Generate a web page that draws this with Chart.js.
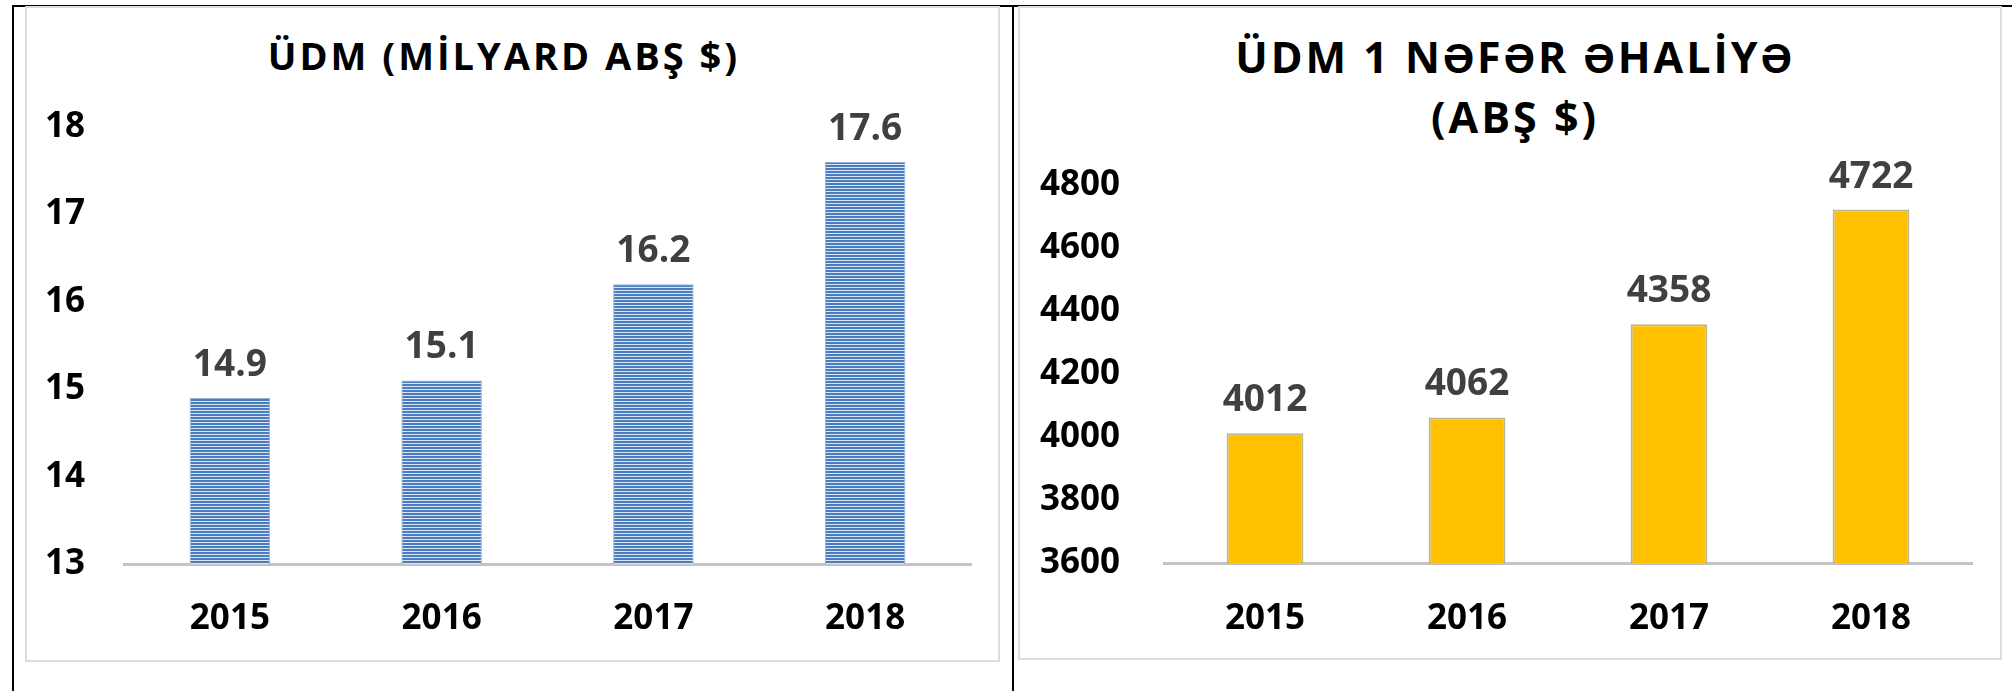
<!DOCTYPE html>
<html>
<head>
<meta charset="utf-8">
<script src="https://cdn.jsdelivr.net/npm/chart.js@4"></script>
<style>
  body { margin: 0; background: #fff; width: 2012px; height: 691px; position: relative; overflow: hidden; font-family: "Open Sans", sans-serif; }
  .rule { position: absolute; background: #000; }
  .box { position: absolute; border: 2px solid #dcdcdc; box-sizing: border-box; }
  .title { position: absolute; text-align: center; font-weight: 700; color: #000; white-space: nowrap; }
  canvas { position: absolute; }
</style>
</head>
<body>
<div class="rule" style="left:12px; top:5px; width:2000px; height:2px;"></div>
<div class="rule" style="left:12px; top:5px; width:2px; height:686px;"></div>
<div class="rule" style="left:1012px; top:5px; width:2px; height:686px;"></div>

<div class="box" style="left:25px; top:6px; width:975px; height:656px;"></div>
<div class="box" style="left:1018px; top:6px; width:984px; height:654px;"></div>

<div class="title" id="gdpTitle" style="left:0; width:1008px; top:30px; font-size:38px; letter-spacing:3px; line-height:50px;">ÜDM (MİLYARD ABŞ $)</div>
<div class="title" id="perCapitaTitle" style="left:1010px; width:1010px; top:27px; font-size:43px; letter-spacing:3px; line-height:60px;">ÜDM 1 NƏFƏR ƏHALİYƏ<br>(ABŞ $)</div>

<canvas id="gdpChart" width="975" height="655" style="left:25px; top:6px;"></canvas>
<canvas id="perCapitaChart" width="983" height="653" style="left:1018px; top:6px;"></canvas>

<script>
const years = ["2015", "2016", "2017", "2018"];
const gdpBillions = [14.9, 15.1, 16.2, 17.6];
const gdpPerCapita = [4012, 4062, 4358, 4722];

const gdpTicks = { min: 13, max: 18, step: 1 };
const perCapitaTicks = { min: 3600, max: 4800, step: 200 };

const FONT = "'Open Sans', sans-serif";

function makeStripePattern() {
  const tile = document.createElement("canvas");
  tile.width = 4;
  tile.height = 3;
  const ctx = tile.getContext("2d");
  ctx.fillStyle = "#dbe5f3";
  ctx.fillRect(0, 0, 4, 3);
  ctx.fillStyle = "#4a7cc0";
  ctx.fillRect(0, 0, 4, 2);
  return ctx.createPattern(tile, "repeat");
}

const valueLabels = {
  id: "valueLabels",
  afterDatasetsDraw(chart, args, opts) {
    const ctx = chart.ctx;
    const values = chart.data.datasets[0].data;
    ctx.save();
    ctx.font = "bold 37px " + FONT;
    ctx.fillStyle = "#404040";
    ctx.textAlign = "center";
    ctx.textBaseline = "alphabetic";
    chart.getDatasetMeta(0).data.forEach((bar, i) => {
      ctx.fillText(opts.format(values[i]), bar.x, bar.y - opts.offset);
    });
    ctx.restore();
  },
};

function buildOptions(range, layout) {
  return {
    responsive: false,
    animation: false,
    layout: { padding: { left: 0, right: layout.right, top: layout.top, bottom: 0 } },
    plugins: {
      legend: { display: false },
      tooltip: { enabled: false },
      valueLabels: { format: layout.format, offset: 22 },
    },
    scales: {
      x: {
        offset: true,
        grid: { display: false, drawTicks: false },
        border: { display: true, color: "#c4c4c4", width: 3 },
        ticks: { color: "#000", padding: layout.xPad, font: { family: FONT, size: 35, weight: "bold" } },
        afterFit(scale) { scale.height = layout.xHeight; },
      },
      y: {
        min: range.min,
        max: range.max,
        grid: { display: false, drawTicks: false },
        border: { display: false },
        ticks: {
          stepSize: range.step,
          color: "#000",
          padding: layout.yPad,
          font: { family: FONT, size: 35, weight: "bold" },
          callback: (value) => String(value),
        },
        afterFit(scale) { scale.width = layout.yWidth; },
      },
    },
  };
}

new Chart(document.getElementById("gdpChart"), {
  type: "bar",
  data: {
    labels: years,
    datasets: [{
      data: gdpBillions,
      backgroundColor: makeStripePattern(),
      borderColor: "rgba(110,140,190,0.7)",
      borderWidth: 1,
      barPercentage: 0.38,
      categoryPercentage: 1,
    }],
  },
  options: buildOptions(gdpTicks, {
    right: 29, top: 121, xHeight: 97, xPad: 34, yWidth: 99, yPad: 39,
    format: (v) => v.toFixed(1),
  }),
  plugins: [valueLabels],
});

new Chart(document.getElementById("perCapitaChart"), {
  type: "bar",
  data: {
    labels: years,
    datasets: [{
      data: gdpPerCapita,
      backgroundColor: "#ffc000",
      borderColor: "rgba(160,150,100,0.7)",
      borderWidth: 2,
      barPercentage: 0.38,
      categoryPercentage: 1,
    }],
  },
  options: buildOptions(perCapitaTicks, {
    right: 29, top: 179, xHeight: 96, xPad: 35, yWidth: 146, yPad: 44,
    format: (v) => String(v),
  }),
  plugins: [valueLabels],
});
</script>
</body>
</html>
